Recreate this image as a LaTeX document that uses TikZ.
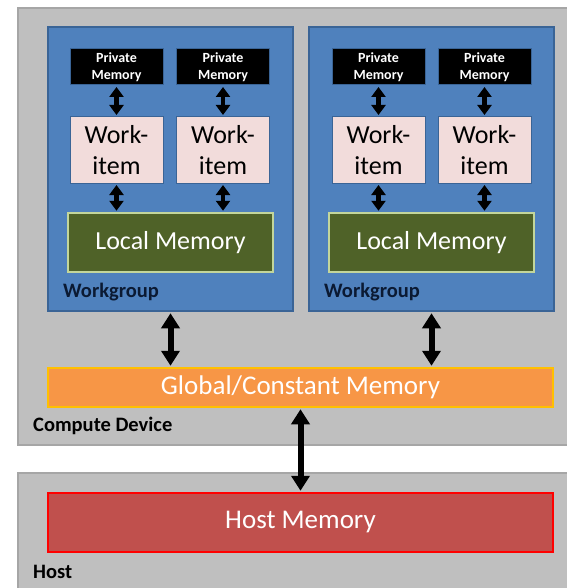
\documentclass[tikz,border=0pt]{standalone}
\usepackage{fontspec}
\setmainfont{Carlito}
\usepackage{tikz}
\usetikzlibrary{positioning,arrows.meta}
\definecolor{devgray}{HTML}{BFBFBF}
\definecolor{devedge}{HTML}{A6A6A6}
\definecolor{wgblue}{HTML}{4F81BD}
\definecolor{wgedge}{HTML}{3A6496}
\definecolor{itempink}{HTML}{F2DCDB}
\definecolor{localgreen}{HTML}{4F6228}
\definecolor{localedge}{HTML}{C3D69B}
\definecolor{globorange}{HTML}{F79646}
\definecolor{globedge}{HTML}{FFC000}
\definecolor{hostred}{HTML}{C0504D}
\definecolor{hostedge}{HTML}{FF0000}
\definecolor{wgtext}{HTML}{0B1A33}

\begin{document}
\begin{tikzpicture}[x=1pt,y=-1pt,
			area/.style={rectangle,fill=devgray,draw=devedge,line width=1.5pt,inner sep=0pt},
			wgroup/.style={rectangle,fill=wgblue,draw=wgedge,line width=1.5pt,inner sep=0pt,minimum width=245pt,minimum height=284pt},
			privm/.style={rectangle,fill=black,draw=wgedge,line width=1pt,inner sep=0pt,minimum width=93pt,minimum height=36pt,
				text=white,align=center,font=\bfseries\fontsize{14}{17}\selectfont},
			witem/.style={rectangle,fill=itempink,draw=wgedge,line width=1pt,inner sep=0pt,minimum width=93pt,minimum height=66pt,
				align=center,font=\fontsize{26}{31}\selectfont},
			localm/.style={rectangle,fill=localgreen,draw=localedge,line width=1.5pt,inner sep=0pt,minimum width=205pt,minimum height=59pt,
				text=white,font=\fontsize{26}{31}\selectfont},
			bigmem/.style={rectangle,line width=1.5pt,inner sep=0pt,minimum width=505pt,text=white},
			tag/.style={anchor=west,inner sep=0pt,font=\bfseries\fontsize{20.5}{24}\selectfont},
			link/.style={{Triangle[length=10pt,width=14pt]}-{Triangle[length=10pt,width=14pt]},line width=4.5pt,shorten <=1.5pt,shorten >=1.5pt},
			biglink/.style={{Triangle[length=15pt,width=18pt]}-{Triangle[length=15pt,width=18pt]},line width=6pt,shorten <=1.5pt,shorten >=1.5pt}]
		\useasboundingbox (0,0) rectangle (566,588);
		% device and host areas
		\path 	(294,226.5) node (dev) [area, minimum width=552pt, minimum height=437pt] {}
		        (294,531) 	node (host) [area, minimum width=552pt, minimum height=116pt] {};
		% workgroups
		\path 	(170.5,169) node (wg1) [wgroup] {}
		        (431.5,169) node (wg2) [wgroup] {};
		\path 	(116.5,67) 	node (pa) [privm] {Private\\Memory}
		        (223,67) 	node (pb) [privm] {Private\\Memory}
		        (378.5,67) 	node (pc) [privm] {Private\\Memory}
		        (484.5,67) 	node (pd) [privm] {Private\\Memory};
		\path 	(116.5,150) node (wa) [witem] {Work-\\item}
		        (223,150) 	node (wb) [witem] {Work-\\item}
		        (378.5,150) node (wc) [witem] {Work-\\item}
		        (484.5,150) node (wd) [witem] {Work-\\item};
		\path 	(170.5,242.5) node (la) [localm] {Local Memory}
		        (431.5,242.5) node (lb) [localm] {Local Memory};
		\path 	(63,292) 	node [tag, text=wgtext] {Workgroup}
		        (324,292) 	node [tag, text=wgtext] {Workgroup};
		% memories
		\path 	(300.5,387.5) node (glob) [bigmem, fill=globorange, draw=globedge, minimum height=39pt,
				font=\fontsize{27}{31}\selectfont] {Global/Constant Memory}
		        (300.5,522.5) node (hmem) [bigmem, fill=hostred, draw=hostedge, minimum height=59pt,
				font=\fontsize{27}{31}\selectfont] {Host Memory};
		\path 	(33,426) 	node [tag] {Compute Device}
		        (33,572) 	node [tag] {Host};
		% links
		\draw [link] (pa) -- (wa);
		\draw [link] (pb) -- (wb);
		\draw [link] (pc) -- (wc);
		\draw [link] (pd) -- (wd);
		\draw [link] (wa) -- (wa |- la.north);
		\draw [link] (wb) -- (wb |- la.north);
		\draw [link] (wc) -- (wc |- lb.north);
		\draw [link] (wd) -- (wd |- lb.north);
		\draw [biglink] (wg1) -- (wg1 |- glob.north);
		\draw [biglink] (wg2) -- (wg2 |- glob.north);
		\draw [biglink] (glob) -- (hmem);
	\end{tikzpicture}
\end{document}
